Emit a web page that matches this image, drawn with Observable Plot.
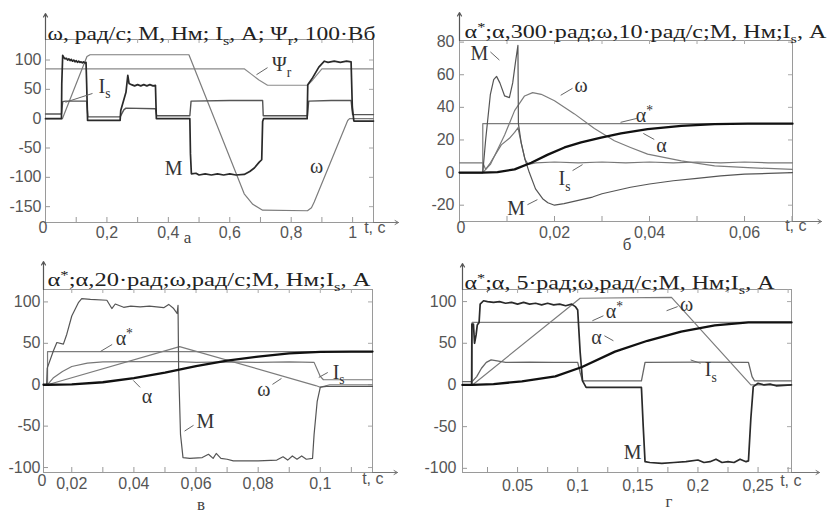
<!DOCTYPE html>
<html><head><meta charset="utf-8">
<script src="https://cdn.jsdelivr.net/npm/d3@7"></script>
<script src="https://cdn.jsdelivr.net/npm/@observablehq/plot@0.6"></script>
<style>
body{margin:0;background:#fff;}
#wrap{position:relative;width:829px;height:512px;overflow:hidden;background:#fff;}
#wrap > div{position:absolute;}
</style></head><body><div id="wrap"></div>
<script>
// ---------------- Panel а ----------------
const aTitle = "ω, рад/с; М, Нм; I_s, А; Ψ_r, 100·Вб";
const aXTicks = [0.2, 0.4, 0.6, 0.8, 1];
const aXLabels = ["0,2", "0,4", "0,6", "0,8", "1"];
const aXMinor = [0.1, 0.2, 0.3, 0.4, 0.5, 0.6, 0.7, 0.8, 0.9, 1.0];
const aYTicks = [100, 50, 0, -50, -100, -150];
const aOmega = [[0,0],[0.055,0],[0.135,106],[0.145,109],[0.467,109],[0.55,0],[0.647,-128],[0.675,-146],[0.707,-156],[0.853,-157],[0.866,-152],[0.875,-142],[0.984,-3],[0.99,0],[1.068,0]];
const aPsi = [[0,85],[0.647,85],[0.67,76],[0.695,66],[0.723,57],[0.853,57],[0.87,66],[0.9,85],[1.068,85]];
const aIs = [[0,8],[0.052,8],[0.056,29],[0.065,30],[0.134,30],[0.138,3],[0.243,3],[0.255,15],[0.262,18],[0.358,17],[0.362,5],[0.47,5],[0.474,30],[0.6,31],[0.707,31],[0.709,5],[0.853,5],[0.857,30],[0.93,31],[0.995,31],[1.0,7],[1.068,7]];
const aM = [[0,0],[0.052,0],[0.053,60],[0.056,108],[0.06,104],[0.064,102],[0.068,103],[0.072,100],[0.076,102],[0.08,99],[0.084,101],[0.088,98],[0.092,100],[0.096,97],[0.1,99],[0.104,96],[0.108,98],[0.112,96],[0.116,97],[0.12,95],[0.124,97],[0.128,95],[0.132,96],[0.134,60],[0.137,-3],[0.243,-3],[0.245,14],[0.262,45],[0.268,74],[0.272,60],[0.28,58],[0.29,56],[0.3,58],[0.31,56],[0.32,58],[0.33,56],[0.34,58],[0.35,56],[0.358,57],[0.361,0],[0.47,0],[0.472,-60],[0.475,-94],[0.49,-93],[0.5,-96],[0.52,-94],[0.54,-96],[0.56,-94],[0.58,-96],[0.6,-94],[0.62,-96],[0.647,-95],[0.665,-90],[0.68,-84],[0.696,-74],[0.704,-70],[0.707,-5],[0.71,0],[0.852,0],[0.854,58],[0.87,70],[0.89,88],[0.908,98],[0.92,96],[0.94,98],[0.96,96],[0.98,98],[0.995,97],[0.999,20],[1.004,-4],[1.068,-4]];
const aLabels = [{s:"Ψ_r",t:0.769,v:92},{s:"I_s",t:0.192,v:55},{s:"M",t:0.417,v:-85},{s:"ω",t:0.883,v:-82}];
const aLeaders = [{t1:0.687,v1:75,t2:0.723,v2:87},{t1:0.065,v1:28,t2:0.153,v2:43}];

// ---------------- Panel б ----------------
const bTitle = "α^*;α,300·рад;ω,10·рад/с;М, Нм;I_s, А";
const bXTicks = [0.02, 0.04, 0.06];
const bXLabels = ["0,02", "0,04", "0,06"];
const bXMinor = [0.01, 0.02, 0.03, 0.04, 0.05, 0.06, 0.07];
const bYTicks = [80, 60, 40, 20, 0, -20];
const bAlphaRef = [[0,0],[0.0049,0],[0.0049,30],[0.0701,30]];
const bAlpha = [[0,0],[0.0049,0],[0.008,0.3],[0.0116,2],[0.0151,6],[0.0186,11],[0.0221,15.4],[0.0256,18.5],[0.0298,21.5],[0.034,24],[0.0396,26.7],[0.0467,28.7],[0.0537,29.7],[0.0607,30],[0.0701,30]];
const bOmega = [[0,0],[0.0049,0],[0.0065,5],[0.008,14],[0.0095,23],[0.0116,38],[0.0137,47],[0.0154,49],[0.0172,48],[0.02,44],[0.0242,36],[0.0284,27],[0.0326,19.5],[0.036,15.4],[0.0396,11.3],[0.0467,7.2],[0.0537,4.1],[0.0607,3],[0.0701,2]];
const bM = [[0,0],[0.0049,0],[0.0055,20],[0.0065,48],[0.0072,57],[0.0078,59],[0.0085,55],[0.0095,47],[0.0105,46],[0.0112,55],[0.0118,68],[0.0123,78],[0.0124,30],[0.013,18],[0.0138,8],[0.0147,0],[0.016,-10],[0.0175,-16],[0.0186,-18.5],[0.02,-20],[0.022,-19],[0.025,-17],[0.028,-15],[0.03,-13],[0.033,-11],[0.036,-9],[0.04,-7],[0.045,-5],[0.05,-3.5],[0.055,-2],[0.06,-1],[0.065,-0.5],[0.0701,0]];
const bIs = [[0,6],[0.0049,6],[0.0055,2],[0.0065,6],[0.0088,17],[0.0105,21],[0.0116,24.6],[0.0123,27.5],[0.013,18],[0.0138,8],[0.0145,5],[0.016,6],[0.02,6.5],[0.025,6],[0.03,6.5],[0.035,6],[0.04,6.5],[0.045,6],[0.05,6.5],[0.055,6],[0.06,6.5],[0.065,6],[0.0701,6]];
const bLabels = [{s:"M",t:0.0042,v:73},{s:"ω",t:0.0256,v:53.5},{s:"α^*",t:0.0389,v:35},{s:"α",t:0.0425,v:16.6},{s:"I_s",t:0.0221,v:-3.7},{s:"M",t:0.0119,v:-22}];
const bLeaders = [{t1:0.0065,v1:74,t2:0.0084,v2:69},{t1:0.0238,v1:51.7,t2:0.0213,v2:47.4},{t1:0.0373,v1:33.2,t2:0.0339,v2:30.8},{t1:0.041,v1:20.3,t2:0.0387,v2:24},{t1:0.0238,v1:1.2,t2:0.0259,v2:4.9},{t1:0.0143,v1:-19.7,t2:0.0164,v2:-16.6}];

// ---------------- Panel в ----------------
const cTitle = "α^*;α,20·рад;ω,рад/с;М, Нм;I_s, А";
const cXTicks = [0.02, 0.04, 0.06, 0.08, 0.1];
const cXLabels = ["0,02", "0,04", "0,06", "0,08", "0,1"];
const cXMinor = [0.02, 0.03, 0.04, 0.05, 0.06, 0.07, 0.08, 0.09, 0.1, 0.11];
const cYTicks = [100, 50, 0, -50, -100];
const cAlphaRef = [[0.0109,0],[0.0122,0],[0.0122,40],[0.1168,40]];
const cAlpha = [[0.0109,0],[0.0122,0],[0.02,0.5],[0.03,3],[0.04,8],[0.05,14.5],[0.055,18.5],[0.06,22.5],[0.07,29],[0.08,34],[0.09,37.8],[0.1,39.6],[0.11,40],[0.1168,40]];
const cOmega = [[0.0109,0],[0.0122,0],[0.0547,46],[0.0985,-1],[0.1,-3],[0.103,0],[0.1168,0]];
const cIs = [[0.0109,0],[0.0122,0],[0.014,8],[0.017,16],[0.02,22],[0.025,26],[0.03,27.5],[0.04,28],[0.0544,28],[0.06,27],[0.07,27.5],[0.08,27],[0.09,27.5],[0.098,27],[0.1,10],[0.101,6],[0.1168,6]];
const cM = [[0.0109,0],[0.0119,0],[0.0121,20],[0.0141,41],[0.0152,51],[0.0173,49],[0.0184,61],[0.02,83],[0.0222,99.5],[0.0232,104],[0.026,103],[0.0313,102],[0.0329,92],[0.034,97.5],[0.0367,93.5],[0.039,95],[0.042,94],[0.045,95],[0.0496,93],[0.0512,97],[0.0528,92],[0.0539,86],[0.0542,96],[0.0544,20],[0.055,-60],[0.0558,-88],[0.058,-89],[0.062,-88],[0.064,-84],[0.0655,-89],[0.0665,-83],[0.068,-89],[0.07,-90],[0.072,-92],[0.08,-92],[0.086,-91],[0.088,-87],[0.0895,-91],[0.091,-86],[0.0925,-90],[0.094,-86],[0.0955,-90],[0.0975,-89],[0.098,-60],[0.099,-20],[0.1,-3],[0.102,-2],[0.1168,-2]];
const cLabels = [{s:"α^*",t:0.0369,v:56},{s:"α",t:0.0442,v:-14},{s:"ω",t:0.0818,v:-6},{s:"I_s",t:0.1059,v:15},{s:"M",t:0.063,v:-44}];
const cLeaders = [{t1:0.033,v1:48.6,t2:0.0292,v2:40.1},{t1:0.042,v1:-3.2,t2:0.0398,v2:5.2},{t1:0.0846,v1:0.4,t2:0.0875,v2:7.6},{t1:0.1024,v1:14.8,t2:0.0995,v2:8.8},{t1:0.0592,v1:-49,t2:0.0563,v2:-56}];

// ---------------- Panel г ----------------
const dTitle = "α^*;α, 5·рад;ω,рад/с;М, Нм;I_s, А";
const dXTicks = [0.05, 0.1, 0.15, 0.2, 0.25];
const dXLabels = ["0.05", "0,1", "0,15", "0,2", "0,25"];
const dXMinor = [0.025, 0.05, 0.075, 0.1, 0.125, 0.15, 0.175, 0.2, 0.225, 0.25, 0.275];
const dYTicks = [100, 50, 0, -50, -100];
const dAlphaRef = [[0.0042,0],[0.0122,0],[0.0122,75],[0.2778,75]];
const dAlpha = [[0.0042,0],[0.0122,0],[0.03,1],[0.0536,4.4],[0.0814,10.4],[0.1036,21.5],[0.131,40],[0.158,53],[0.186,64],[0.214,71.5],[0.242,75],[0.2778,75]];
const dOmega = [[0.0042,0],[0.0125,0],[0.102,104],[0.178,105],[0.244,0],[0.2778,0]];
const dIs = [[0.0042,4],[0.0122,4],[0.016,10],[0.02,20],[0.024,27],[0.028,30],[0.033,29],[0.04,27],[0.06,27.5],[0.08,27],[0.1,27],[0.102,15],[0.104,5],[0.153,5],[0.156,27],[0.2,27.5],[0.242,27],[0.245,10],[0.247,5],[0.2778,5]];
const dM = [[0.0042,0],[0.0118,0],[0.012,73],[0.0133,73],[0.0142,50],[0.0155,60],[0.0165,72],[0.018,75],[0.0189,97],[0.0217,101],[0.025,100],[0.03,99],[0.035,100],[0.04,98],[0.045,99],[0.05,97],[0.055,99],[0.06,97],[0.065,98],[0.07,96],[0.075,98],[0.08,96],[0.085,97],[0.09,95],[0.095,97],[0.098,94],[0.1,90],[0.102,40],[0.104,5],[0.107,-3],[0.153,-3],[0.1545,-50],[0.156,-92],[0.16,-93],[0.17,-94],[0.18,-93],[0.19,-92],[0.2,-90],[0.205,-93],[0.21,-92],[0.215,-89],[0.22,-93],[0.225,-92],[0.23,-93],[0.235,-89],[0.24,-92],[0.242,-91],[0.244,-40],[0.246,-2],[0.25,2],[0.255,0],[0.26,1],[0.265,-1],[0.2778,0]];
const dLabels = [{s:"α^*",t:0.1306,v:88},{s:"ω",t:0.1906,v:96},{s:"α",t:0.1156,v:57},{s:"I_s",t:0.2106,v:18},{s:"M",t:0.1456,v:-81}];
const dLeaders = [{t1:0.1214,v1:83,t2:0.1122,v2:77},{t1:0.1831,v1:94,t2:0.1739,v2:89},{t1:0.1222,v1:59,t2:0.1297,v2:53},{t1:0.2022,v1:26,t2:0.1939,v2:30}];

// ---------------- styles ----------------
const GRAY = "#7c7c7c", DARK = "#2a2a2a";

const panels = [
  {left:0, top:0, width:414, height:256, ml:45, mr:41, mt:39, mb:34, xd:[0,1.068], yd:[-177,135],
   xTicks:aXTicks, xLabels:aXLabels, xMinor:aXMinor, yTicks:aYTicks, xPad:4, yPad:4,
   title:aTitle, tdx:2, tdy:-13, tW:328, corner0:[-7,10], tc:[12,10], letter:"а", ldx:-22, ldy:20, xArrow:25, yArrow:26,
   series:[{d:aPsi,c:"#8a8a8a",w:1.2},{d:aOmega,c:GRAY,w:1.2},{d:aIs,c:"#555",w:1.4},{d:aM,c:DARK,w:1.7}],
   labels:aLabels, leaders:aLeaders},
  {left:414, top:0, width:415, height:256, ml:45, mr:37, mt:40, mb:35, xd:[0,0.0701], yd:[-30,81],
   xTicks:bXTicks, xLabels:bXLabels, xMinor:bXMinor, yTicks:bYTicks, xPad:5, yPad:5,
   title:bTitle, tdx:5, tdy:-16, tW:362, corner0:[-3,11], tc:[14,9], letter:"б", ldx:1, ldy:28, xArrow:29, yArrow:28,
   series:[{d:bAlphaRef,c:GRAY,w:1.2},{d:bOmega,c:GRAY,w:1.2},{d:bIs,c:"#777",w:1.2},{d:bM,c:"#555",w:1.2},{d:bAlpha,c:"#111",w:2.3}],
   labels:bLabels, leaders:bLeaders},
  {left:0, top:256, width:414, height:256, ml:43, mr:42, mt:33, mb:40, xd:[0.0109,0.1168], yd:[-106,115],
   xTicks:cXTicks, xLabels:cXLabels, xMinor:cXMinor, yTicks:cYTicks, xPad:5, yPad:3,
   title:cTitle, tdx:4, tdy:-17, tW:323, corner0:[-6,13], tc:[11,11], letter:"в", ldx:-7, ldy:37, xArrow:25, yArrow:28,
   series:[{d:cAlphaRef,c:GRAY,w:1.2},{d:cOmega,c:GRAY,w:1.2},{d:cIs,c:"#777",w:1.2},{d:cM,c:"#555",w:1.2},{d:cAlpha,c:"#111",w:2.3}],
   labels:cLabels, leaders:cLeaders},
  {left:414, top:256, width:415, height:256, ml:48, mr:38, mt:33, mb:40, xd:[0.0042,0.2778], yd:[-105,114.5],
   xTicks:dXTicks, xLabels:dXLabels, xMinor:dXMinor, yTicks:dYTicks, xPad:7, yPad:6,
   title:dTitle, tdx:2, tdy:-14, tW:310, corner0:null, tc:[10,13], letter:"г", ldx:42, ldy:34, xArrow:28, yArrow:26,
   series:[{d:dAlphaRef,c:GRAY,w:1.2},{d:dOmega,c:GRAY,w:1.2},{d:dIs,c:"#666",w:1.3},{d:dM,c:DARK,w:1.7},{d:dAlpha,c:"#111",w:2.3}],
   labels:dLabels, leaders:dLeaders}
];

function fmt(vals, labels) {
  const m = new Map(vals.map((v, i) => [v, labels[i]]));
  return d => (m.has(d) ? m.get(d) : "");
}

function richText(svg, p) {
  d3.select(svg).selectAll("text").each(function() {
    const s = this.textContent;
    const isTitle = s === p.title;
    if (!/[_^]/.test(s)) return;
    const fs = parseFloat(getComputedStyle(this).fontSize) || 19;
    const el = d3.select(this);
    el.text(null);
    let buf = "", pending = 0;
    const flush = () => {
      if (!buf) return;
      const t = el.append("tspan").text(buf);
      if (pending) { t.attr("dy", pending); pending = 0; }
      buf = "";
    };
    for (let i = 0; i < s.length; i++) {
      const ch = s[i];
      if ((ch === "_" || ch === "^") && i + 1 < s.length) {
        flush();
        const d = ch === "_" ? 0.28 * fs : -0.36 * fs;
        el.append("tspan").attr("dy", d + pending).attr("font-size", 0.68 * fs).text(s[i + 1]);
        pending = -d; i++;
      } else buf += ch;
    }
    flush();
    if (isTitle) el.attr("textLength", p.tW).attr("lengthAdjust", "spacingAndGlyphs");
  });
}

const wrap = document.getElementById("wrap");
for (const p of panels) {
  const pw = p.width - p.ml - p.mr, ph = p.height - p.mt - p.mb;
  const [x0, x1] = p.xd, [y0, y1] = p.yd;
  const xpp = (x1 - x0) / pw, ypp = (y1 - y0) / ph;
  const marks = [
    Plot.frame({stroke: "#9a9a9a"}),
    Plot.tickX(p.xMinor, {x: d => d, insetTop: ph - 5, stroke: "#999"}),
    Plot.tickX(p.xMinor, {x: d => d, insetBottom: ph - 4, stroke: "#aaa"}),
    Plot.tickY(p.yTicks, {y: d => d, insetRight: pw - 5, stroke: "#999"}),
    Plot.tickY(p.yTicks, {y: d => d, insetLeft: pw - 4, stroke: "#aaa"}),
    Plot.axisX(p.xTicks, {tickSize: 0, tickPadding: p.xPad, tickFormat: fmt(p.xTicks, p.xLabels), label: null, fontSize: 16}),
    Plot.axisY(p.yTicks, {tickSize: 0, tickPadding: p.yPad, tickFormat: d => String(d), label: null, fontSize: 16}),
    Plot.arrow([{a: 1}], {x1: () => x1, y1: () => y0, x2: () => x1 + p.xArrow * xpp, y2: () => y0, stroke: "#777", headLength: 6, strokeWidth: 1}),
    Plot.arrow([{a: 1}], {x1: () => x0, y1: () => y1, x2: () => x0, y2: () => y1 + p.yArrow * ypp, stroke: "#555", headLength: 5, strokeWidth: 1.2}),
    ...p.series.map(s => Plot.line(s.d, {x: d => d[0], y: d => d[1], stroke: s.c, strokeWidth: s.w})),
    Plot.link(p.leaders, {x1: "t1", y1: "v1", x2: "t2", y2: "v2", stroke: "#666", strokeWidth: 1}),
    Plot.text(p.labels, {x: "t", y: "v", text: "s", fontFamily: "Liberation Serif", fontSize: 20, fill: "#333"}),
    Plot.text([p.title], {text: d => d, frameAnchor: "top-left", textAnchor: "start", dx: p.tdx, dy: p.tdy, fontFamily: "Liberation Serif", fontSize: 19, fill: "#222"}),
    Plot.text(["t, c"], {text: d => d, frameAnchor: "bottom-right", dx: p.tc[0], dy: p.tc[1], fontSize: 16, fill: "#555"}),
    Plot.text([p.letter], {text: d => d, frameAnchor: "bottom", dx: p.ldx, dy: p.ldy, fontFamily: "Liberation Serif", fontSize: 17, fill: "#444"})
  ];
  if (p.corner0) marks.push(Plot.text(["0"], {text: d => d, frameAnchor: "bottom-left", dx: p.corner0[0], dy: p.corner0[1], fontSize: 16, fill: "#555"}));
  const svg = Plot.plot({
    width: p.width, height: p.height,
    marginLeft: p.ml, marginRight: p.mr, marginTop: p.mt, marginBottom: p.mb,
    x: {domain: p.xd}, y: {domain: p.yd},
    style: {fontFamily: "Liberation Sans", fontSize: "16px", color: "#555", background: "transparent", overflow: "visible"},
    marks
  });
  const div = document.createElement("div");
  div.style.left = p.left + "px"; div.style.top = p.top + "px";
  div.style.width = p.width + "px"; div.style.height = p.height + "px";
  div.appendChild(svg);
  wrap.appendChild(div);
  richText(svg, p);
}
</script>
</body></html>
